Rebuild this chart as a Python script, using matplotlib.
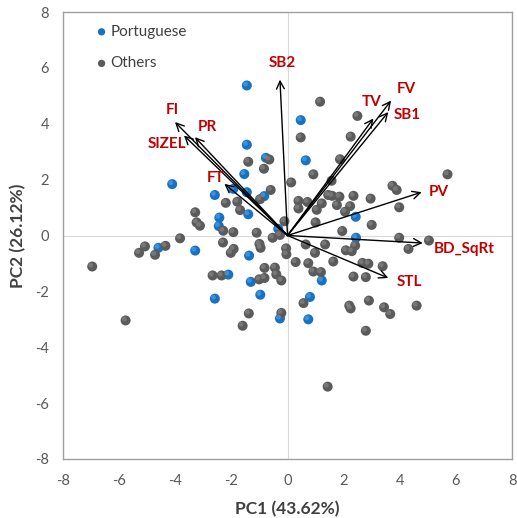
import matplotlib
matplotlib.use("Agg")
import matplotlib.pyplot as plt
from matplotlib import rcParams

rcParams["font.family"] = ["Lato", "DejaVu Sans"]
rcParams["axes.unicode_minus"] = False

# PCA scores (PC1, PC2)
port_x = [-1.45, -1.45, -0.77, -1.54, -4.11, -1.93, -1.45, -0.83, -2.59, -1.40,
          -2.43, -2.45, -0.33, 0.47, 0.65, 2.43, 2.44, -4.60, -3.29, -1.37,
          -2.11, -1.31, -0.97, -2.59, -0.27, 1.22, 0.80, 0.74]
port_y = [5.37, 3.25, 2.78, 2.20, 1.84, 1.67, 1.55, 1.41, 1.45, 0.76,
          0.64, 0.34, 0.24, 4.13, 2.69, 0.67, -0.08, -0.44, -0.54, -0.72,
          -1.40, -1.66, -2.12, -2.26, -2.97, -1.61, -2.20, -3.00]

other_x = [-1.40, -0.65, -0.84, -0.60, -0.98, -2.20, -1.79, -1.69, -3.29, -3.24,
           -3.12, -2.29, -1.93, -1.10, -3.83, -0.11, -0.53, -0.27,
           -6.96, -5.77, -5.29, -5.08, -4.35, -4.72, -2.30, -2.02, -1.92, -1.00,
           -0.96, -0.05, -0.04, -2.67, -2.35, -0.82, -0.45, -0.40, -0.22, -1.01,
           -0.82, -1.38, -1.60, -0.22,
           1.16, 2.49, 0.47, 2.25, 1.87, 0.92, 5.70, 0.13, 1.57, 3.74,
           3.89, 0.39, 0.39, 0.71, 1.22, 1.04, 1.45, 1.59, 1.85, 1.76,
           2.35, 2.23, 2.05, 2.96, 3.98, 1.00, 3.00, 1.95,
           3.98, 5.04, 4.31, 0.65, 1.34, 2.41, 2.08, 2.29, 0.98, 0.29,
           0.74, 1.63, 2.67, 2.88, 3.39, 0.92, 1.19, 2.35, 2.79, 0.57,
           2.20, 2.25, 2.90, 3.44, 3.66, 4.60, 2.79, 1.43]
other_y = [2.64, 2.72, 2.39, 1.63, 1.30, 1.17, 1.21, 0.91, 0.83, 0.47,
           0.35, 0.17, 0.12, 0.10, -0.10, 0.51, -0.08, 0.02,
           -1.11, -3.04, -0.62, -0.39, -0.37, -0.69, -0.25, -0.62, -0.48, -0.30,
           -0.44, -0.46, -0.67, -1.43, -1.43, -1.16, -1.15, -1.39, -1.61, -1.57,
           -1.52, -2.79, -3.23, -2.77,
           4.79, 4.28, 3.51, 3.54, 2.73, 2.19, 2.19, 1.90, 1.96, 1.78,
           1.63, 1.24, 0.97, 1.20, 1.15, 0.92, 1.45, 1.42, 1.39, 1.09,
           1.42, 1.05, 0.85, 1.32, 1.01, 0.47, 0.38, 0.16,
           -0.08, -0.18, -0.48, -0.32, -0.32, -0.36, -0.53, -0.56, -0.62, -0.95,
           -0.99, -0.93, -0.98, -1.01, -1.10, -1.29, -1.31, -1.47, -1.49, -2.42,
           -2.51, -2.61, -2.33, -2.57, -2.81, -2.51, -3.41, -5.41]

# variable loadings (scaled)
var_names = ["SB2", "FI", "PR", "SIZEL", "FT", "TV", "FV", "SB1", "PV", "BD_SqRt", "STL"]
load_x = [-0.27, -4.01, -3.30, -3.69, -2.25, 3.06, 3.69, 3.59, 4.78, 4.82, 3.59]
load_y = [5.58, 4.06, 3.52, 3.58, 1.85, 4.19, 4.83, 4.42, 1.55, -0.27, -1.52]

# label placement (offset in points, ha)
label_pos = {
    "SB2": ((2, 12), "center"),
    "FI": ((-2, 9), "center"),
    "PR": ((9, 7), "center"),
    "SIZEL": ((1.5, -6), "right"),
    "FT": ((-6, 4), "center"),
    "TV": ((-1, 12), "center"),
    "FV": ((11, 8), "center"),
    "SB1": ((14, -2), "center"),
    "PV": ((5, 0), "left"),
    "BD_SqRt": ((8, -4), "left"),
    "STL": ((6, -3), "left"),
}

blue = "#1672c4"
gray = "#5b5b5b"

fig = plt.figure(figsize=(5.17, 5.18), dpi=100)
ax = fig.add_axes([0.1219, 0.1139, 0.8685, 0.8629])

ax.axhline(0, color="#d9d9d9", lw=0.8, zorder=0)
ax.axvline(0, color="#d9d9d9", lw=0.8, zorder=0)


def balls(x, y, color, hl, label):
    ax.scatter(x, y, s=52, color=color, edgecolors="none", zorder=3, label=label)
    # small highlight for a shaded look
    ax.scatter([v - 0.05 for v in x], [v + 0.05 for v in y], s=12, color=hl,
               alpha=0.45, edgecolors="none", zorder=4)


balls(port_x, port_y, blue, "#6fb4f0", "Portuguese")
balls(other_x, other_y, gray, "#9a9a9a", "Others")

for name, lx, ly in zip(var_names, load_x, load_y):
    ax.annotate("", xy=(lx, ly), xytext=(0, 0),
                arrowprops=dict(arrowstyle="->", lw=1, color="black",
                                shrinkA=0, shrinkB=0, mutation_scale=14),
                zorder=5)
    off, ha = label_pos[name]
    ax.annotate(name, xy=(lx, ly), xytext=off, textcoords="offset points",
                ha=ha, va="center", color="#c00000", fontsize=11,
                fontweight="bold", zorder=6)

ax.set_xlim(-8, 8)
ax.set_ylim(-8, 8)
ax.set_xticks(range(-8, 9, 2))
ax.set_yticks(range(-8, 9, 2))
ax.tick_params(axis="x", length=0, pad=11, labelsize=10.5, labelcolor="#595959")
ax.tick_params(axis="y", length=0, pad=10, labelsize=10.5, labelcolor="#595959")
for s in ax.spines.values():
    s.set_color("#a0a0a0")
    s.set_linewidth(1)

ax.set_xlabel("PC1 (43.62%)", fontsize=12.5, fontweight="bold", color="#404040")
ax.set_ylabel("PC2 (26.12%)", fontsize=12.5, fontweight="bold", color="#404040")
ax.xaxis.set_label_coords(0.5, -0.112)
ax.yaxis.set_label_coords(-0.100, 0.5)
ax.xaxis.label.set_va("center")
ax.yaxis.label.set_va("center")

leg = ax.legend(loc="upper left", bbox_to_anchor=(0.062, 0.985), frameon=False,
                fontsize=11, labelspacing=1.15, handlelength=0.6, handletextpad=0.3,
                borderaxespad=0, labelcolor="#404040")
for h in leg.legend_handles:
    h.set_sizes([28])

fig.savefig("out.png", dpi=100)
